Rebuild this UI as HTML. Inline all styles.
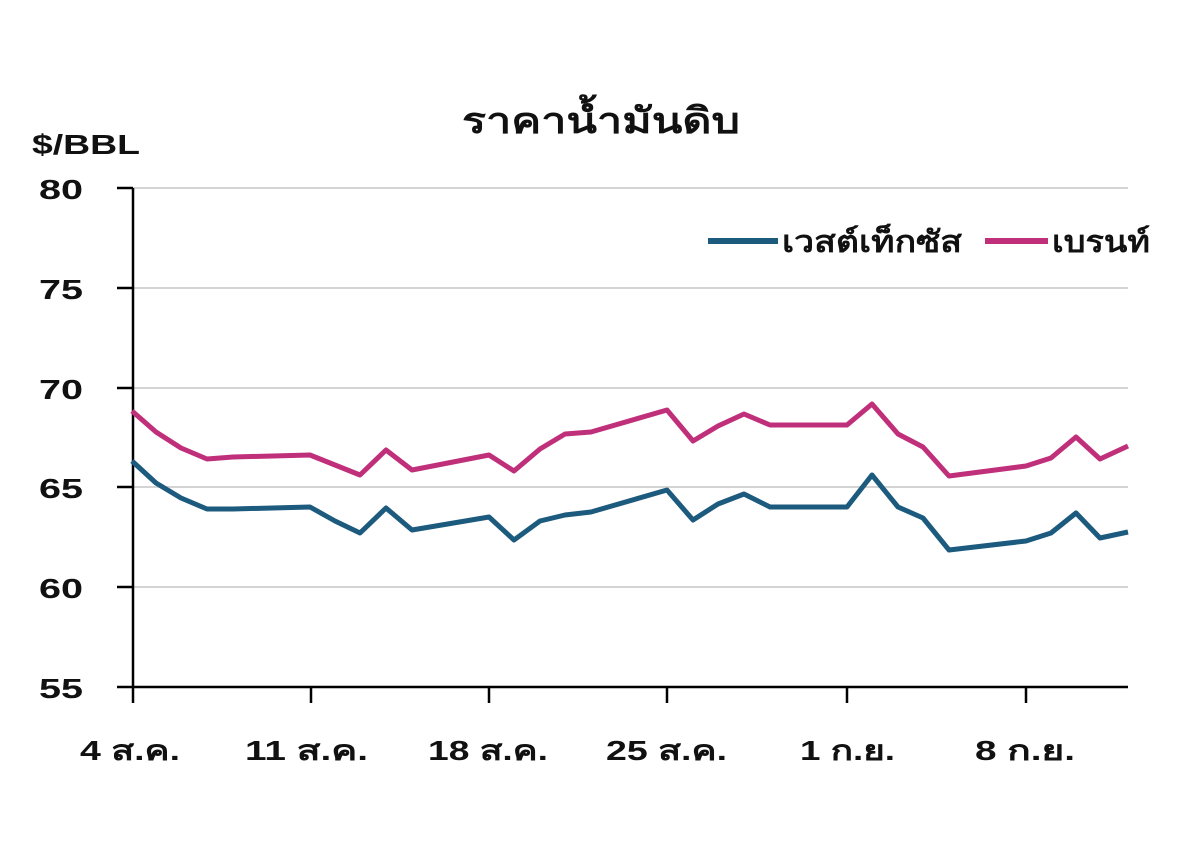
<!DOCTYPE html>
<html><head><meta charset="utf-8"><style>
body{margin:0;background:#fff;}
svg text{font-family:"Liberation Sans","DejaVu Sans",sans-serif;font-weight:bold;fill:#111;}
</style></head><body>
<svg width="1200" height="853" xmlns="http://www.w3.org/2000/svg">
<rect width="1200" height="853" fill="#fff"/>
<text x="601" y="133" font-size="36" text-anchor="middle" textLength="278" lengthAdjust="spacingAndGlyphs">ราคาน้ำมันดิบ</text>
<text x="32" y="154" font-size="28" font-weight="normal" textLength="108" lengthAdjust="spacingAndGlyphs">$/BBL</text>
<g stroke="#d4d4d4" stroke-width="2">
<line x1="133" y1="188" x2="1128" y2="188"/>
<line x1="133" y1="288" x2="1128" y2="288"/>
<line x1="133" y1="388" x2="1128" y2="388"/>
<line x1="133" y1="487" x2="1128" y2="487"/>
<line x1="133" y1="587" x2="1128" y2="587"/>
</g>
<g stroke="#000" stroke-width="2.5" fill="none">
<line x1="133" y1="188" x2="133" y2="687"/>
<line x1="117" y1="687" x2="1128" y2="687"/>
<line x1="117" y1="188" x2="133" y2="188"/>
<line x1="117" y1="288" x2="133" y2="288"/>
<line x1="117" y1="388" x2="133" y2="388"/>
<line x1="117" y1="487" x2="133" y2="487"/>
<line x1="117" y1="587" x2="133" y2="587"/>
<line x1="133" y1="687" x2="133" y2="703"/>
<line x1="311" y1="687" x2="311" y2="703"/>
<line x1="489" y1="687" x2="489" y2="703"/>
<line x1="667" y1="687" x2="667" y2="703"/>
<line x1="847" y1="687" x2="847" y2="703"/>
<line x1="1026" y1="687" x2="1026" y2="703"/>
</g>
<g font-size="28">
<text x="39" y="199" textLength="44" lengthAdjust="spacingAndGlyphs">80</text>
<text x="39" y="299" textLength="44" lengthAdjust="spacingAndGlyphs">75</text>
<text x="39" y="399" textLength="44" lengthAdjust="spacingAndGlyphs">70</text>
<text x="39" y="498" textLength="44" lengthAdjust="spacingAndGlyphs">65</text>
<text x="39" y="598" textLength="44" lengthAdjust="spacingAndGlyphs">60</text>
<text x="39" y="698" textLength="44" lengthAdjust="spacingAndGlyphs">55</text>
</g>
<g font-size="28">
<text x="80" y="760" textLength="100" lengthAdjust="spacingAndGlyphs">4 ส.ค.</text>
<text x="245" y="760" textLength="123" lengthAdjust="spacingAndGlyphs">11 ส.ค.</text>
<text x="428" y="760" textLength="120" lengthAdjust="spacingAndGlyphs">18 ส.ค.</text>
<text x="606" y="760" textLength="121" lengthAdjust="spacingAndGlyphs">25 ส.ค.</text>
<text x="800" y="760" textLength="95" lengthAdjust="spacingAndGlyphs">1 ก.ย.</text>
<text x="975" y="760" textLength="100" lengthAdjust="spacingAndGlyphs">8 ก.ย.</text>
</g>
<polyline fill="none" stroke="#c0307a" stroke-width="5" stroke-linejoin="round" points="132,411 156,432 181,448 207,459 233,457 310,455 335,465 360,475 386,450 412,470 489,455 514,471 540,449 565,434 591,432 667,410 693,441 718,426 744,414 770,425 847,425 872,404 898,434 923,447 949,476 1026,466 1051,458 1076,437 1100,459 1128,446"/>
<polyline fill="none" stroke="#1c5a7e" stroke-width="5" stroke-linejoin="round" points="132,461 156,483 181,498 207,509 233,509 310,507 335,521 360,533 386,508 412,530 489,517 514,540 540,521 565,515 591,512 667,490 693,520 718,504 744,494 770,507 847,507 872,475 898,507 923,518 949,550 1026,541 1051,533 1076,513 1100,538 1128,532"/>
<line x1="708" y1="241" x2="778" y2="241" stroke="#1c5a7e" stroke-width="6"/>
<text x="782" y="252" font-size="30" textLength="180" lengthAdjust="spacingAndGlyphs">เวสต์เท็กซัส</text>
<line x1="985" y1="241" x2="1048" y2="241" stroke="#c0307a" stroke-width="6"/>
<text x="1052" y="252" font-size="30" textLength="98" lengthAdjust="spacingAndGlyphs">เบรนท์</text>
</svg>
</body></html>
